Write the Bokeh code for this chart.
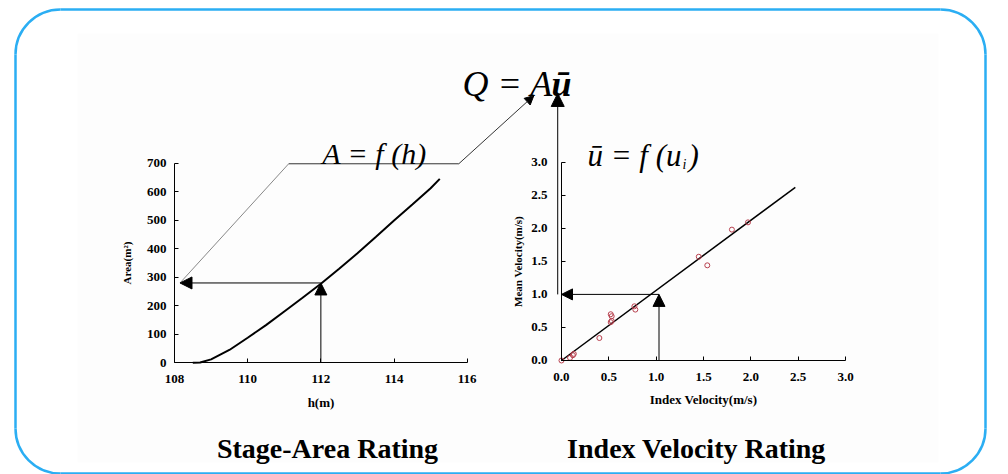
import math
from bokeh.plotting import figure
from bokeh.models import Range1d, LinearAxis, FixedTicker, Arrow, NormalHead, PrintfTickFormatter
from bokeh.embed import file_html
from bokeh.resources import INLINE
from bokeh.core.properties import value

# ---- data ----
stage_h = [108.5, 108.7, 109.0, 109.5, 110.0, 110.5, 111.0, 111.5, 112.0, 112.5,
           113.0, 113.5, 114.0, 114.5, 115.0, 115.25]
stage_area = [0, 1, 12, 45, 88, 132, 180, 228, 277, 330, 384, 441, 499, 555, 612, 645]

index_v = [0.0, 0.09, 0.12, 0.13, 0.40, 0.52, 0.52, 0.53, 0.53, 0.77, 0.78, 1.45, 1.54, 1.80, 1.97]
mean_v = [0.0, 0.04, 0.08, 0.10, 0.34, 0.58, 0.70, 0.67, 0.60, 0.82, 0.77, 1.57, 1.44, 1.98, 2.09]

fit_x = [0.0, 2.47]
fit_y = [0.0, 2.62]

h_ticks = [108, 110, 112, 114, 116]
area_ticks = [0, 100, 200, 300, 400, 500, 600, 700]
vel_ticks = [0.0, 0.5, 1.0, 1.5, 2.0, 2.5, 3.0]

h_read, area_read = 112.0, 280.0      # stage-area lookup
ui_read, u_read = 1.03, 1.0           # index velocity lookup

SERIF = "Liberation Serif"

p = figure(width=1008, height=474, output_backend="svg", toolbar_location=None,
           x_axis_type=None, y_axis_type=None,
           x_range=Range1d(103.2446, 130.793), y_range=Range1d(-391.7, 1270.6),
           min_border=0)
p.min_border_left = p.min_border_right = p.min_border_top = p.min_border_bottom = 0
p.outline_line_color = None
p.background_fill_color = "white"
p.extra_x_ranges = {"rx": Range1d(-5.926, 4.7218), "px": Range1d(0, 1008)}
p.extra_y_ranges = {"ry": Range1d(-1.7247, 5.4463), "py": Range1d(474, 0)}

PX = dict(x_range_name="px", y_range_name="py")
RV = dict(x_range_name="rx", y_range_name="ry")

# faint panel and rounded frame
p.quad(left=[77], right=[938], top=[33], bottom=[462], fill_color="#fdfdfd",
       line_color=None, **PX)
BLUE = "#2BAEF3"
p.segment(x0=[60, 60, 15, 985], y0=[9, 473, 54, 54], x1=[940, 940, 15, 985],
          y1=[9, 473, 428, 428], line_color=BLUE, line_width=2.5, **PX)
p.arc(x=[60, 940, 60, 940], y=[54, 54, 428, 428], radius=45,
      start_angle=[math.pi / 2, 0, math.pi, 1.5 * math.pi],
      end_angle=[math.pi, math.pi / 2, 1.5 * math.pi, 2 * math.pi],
      line_color=BLUE, line_width=2.5, **PX)


def style(ax, label_standoff, tick_standoff, label_size, tick_size="13px"):
    ax.major_label_text_font = SERIF
    ax.major_label_text_font_style = "bold"
    ax.major_label_text_font_size = tick_size
    ax.major_label_text_color = "black"
    ax.axis_label_text_font = SERIF
    ax.axis_label_text_font_style = "bold"
    ax.axis_label_text_font_size = label_size
    ax.axis_label_text_color = "black"
    ax.major_tick_in = 4
    ax.major_tick_out = 0
    ax.minor_tick_in = 0
    ax.minor_tick_out = 0
    ax.major_label_standoff = tick_standoff
    ax.axis_label_standoff = label_standoff
    ax.axis_line_color = "black"
    ax.major_tick_line_color = "black"


# left plot axes
ax1 = LinearAxis(fixed_location=0, bounds=(108, 116),
                 ticker=FixedTicker(ticks=h_ticks, minor_ticks=[]), axis_label="h(m)")
style(ax1, 9, 12, "13px")
p.add_layout(ax1, "below")
ay1 = LinearAxis(fixed_location=108, bounds=(0, 700),
                 ticker=FixedTicker(ticks=area_ticks, minor_ticks=[]), axis_label="Area(m²)")
style(ay1, 11, 8, "11px")
p.add_layout(ay1, "left")

# right plot axes
ax2 = LinearAxis(fixed_location=0, bounds=(0, 3), **RV,
                 ticker=FixedTicker(ticks=vel_ticks, minor_ticks=[]),
                 formatter=PrintfTickFormatter(format="%.1f"), axis_label="Index Velocity(m/s)")
style(ax2, 7, 13, "13px")
p.add_layout(ax2, "below")
ay2 = LinearAxis(fixed_location=0, bounds=(0, 3), **RV,
                 ticker=FixedTicker(ticks=vel_ticks, minor_ticks=[]),
                 formatter=PrintfTickFormatter(format="%.1f"), axis_label="Mean Velocity(m/s)")
style(ay2, 4, 14, "11px")
p.add_layout(ay2, "left")

# data
p.line(stage_h, stage_area, line_color="black", line_width=2)
p.line(fit_x, fit_y, line_color="black", line_width=1.5, **RV)
p.scatter(index_v, mean_v, size=5, marker="circle", fill_color=None,
          line_color="#b8404e", line_width=1, **RV)

# lookup arrows, left plot
head = lambda s: NormalHead(size=s, fill_color="black", line_color="black")
p.add_layout(Arrow(end=head(12), x_start=h_read, y_start=0, x_end=h_read, y_end=area_read,
                   line_width=1))
p.add_layout(Arrow(end=head(12), x_start=h_read, y_start=area_read, x_end=108.15,
                   y_end=area_read, line_width=1))
# connector to Q = A u
p.line([108.15, 111.12], [area_read, 698], line_color="#888888", line_width=1)
p.line([111.12, 115.77], [698, 698], line_color="#333333", line_width=1)
p.add_layout(Arrow(end=head(9), x_start=115.77, y_start=698, x_end=117.82, y_end=937,
                   line_width=1, line_color="#333333"))

# lookup arrows, right plot
p.add_layout(Arrow(end=head(12), x_start=ui_read, y_start=0, x_end=ui_read, y_end=u_read,
                   line_width=1, **RV))
p.add_layout(Arrow(end=head(11), x_start=ui_read, y_start=u_read, x_end=0.0, y_end=u_read,
                   line_width=1, **RV))
p.add_layout(Arrow(end=head(13), x_start=-0.04, y_start=u_read, x_end=-0.04, y_end=4.04,
                   line_width=1, **RV))

# texts
common = dict(text_font=value(SERIF), text_baseline="alphabetic", text_color="black", **PX)
p.text(x=[462], y=[83], text=["Q = A"], text_font_style="italic", text_font_size="36px",
       text_align="left", **common)
p.text(x=[551], y=[83], text=["ū"], text_font_style="bold italic", text_font_size="36px",
       text_align="left", **common)
p.text(x=[374], y=[153], text=["A = f (h)"], text_font_style="italic", text_font_size="30px",
       text_align="center", **common)
p.text(x=[681], y=[155], text=["ū = f (u"], text_font_style="italic", text_font_size="31px",
       text_align="right", **common)
p.text(x=[682], y=[164], text=["i"], text_font_style="italic", text_font_size="14px",
       text_align="left", **common)
p.text(x=[688], y=[155], text=[")"], text_font_style="italic", text_font_size="31px",
       text_align="left", **common)
p.text(x=[327, 696], y=[448, 448], text=["Stage-Area Rating", "Index Velocity Rating"],
       text_font_style="bold", text_font_size="28px", text_align="center", **common)

open("out.html", "w").write(file_html(p, INLINE))
